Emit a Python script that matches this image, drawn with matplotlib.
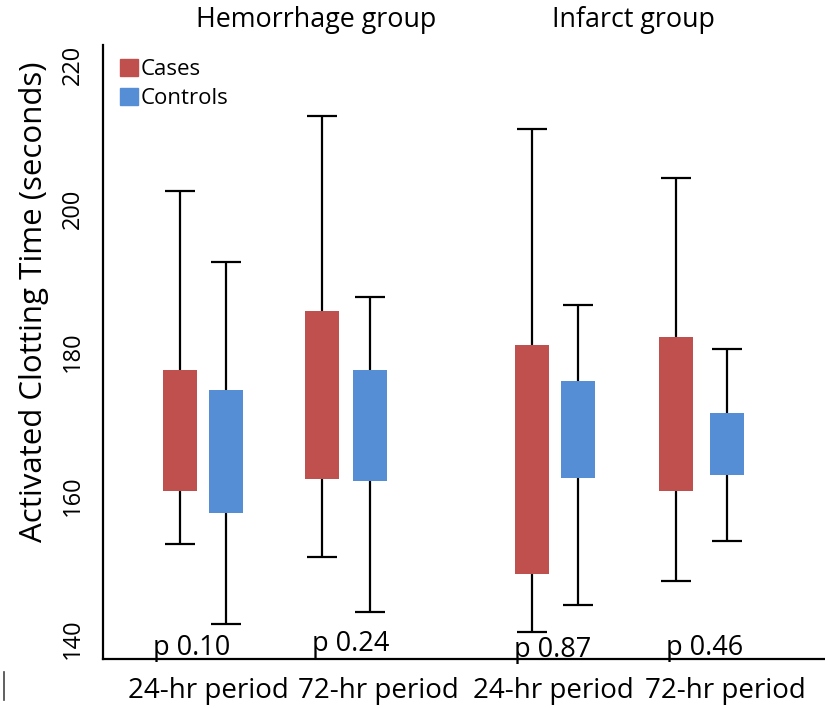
import matplotlib.pyplot as plt
from matplotlib.patches import Patch
from matplotlib.lines import Line2D

plt.rcParams['font.family'] = ['Open Sans', 'DejaVu Sans']

# Activated clotting time (seconds) per group / period
categories = ['24-hr period', '72-hr period', '24-hr period', '72-hr period']
groups = ['Hemorrhage group', 'Infarct group']
p_values = ['p 0.10', 'p 0.24', 'p 0.87', 'p 0.46']

cases_low = [153.2, 151.4, 141.0, 148.1]
cases_q1 = [160.6, 162.3, 149.1, 160.6]
cases_q3 = [177.5, 185.7, 181.0, 182.1]
cases_high = [202.4, 212.9, 211.1, 204.2]

controls_low = [142.1, 143.8, 144.7, 153.6]
controls_q1 = [157.6, 162.0, 162.4, 162.9]
controls_q3 = [174.7, 177.5, 176.0, 171.5]
controls_high = [192.5, 187.7, 186.5, 180.4]

red = '#C0504D'
blue = '#558ED5'

# layout (x in pixel-like units from the y axis)
cases_x = [77, 219, 429, 573]
controls_x = [123, 267, 475, 624]
label_x = [105, 275, 450, 622]
p_x = [89, 248, 450, 602]
p_y = [137.7, 138.35, 137.45, 137.8]
title_x = [213, 530]
box_w = 34
cap_w = 30

fig = plt.figure(figsize=(8.25, 7.08), dpi=100)
ax = fig.add_axes([103 / 825, 1 - 659 / 708, 722 / 825, 614 / 708])


def draw_boxes(xs, low, q1, q3, high, color):
    heights = [b - a for a, b in zip(q1, q3)]
    ax.bar(xs, heights, bottom=q1, width=box_w, color=color, zorder=3)
    ax.vlines(xs, q3, high, color='black', lw=1.6, zorder=2)
    ax.vlines(xs, low, q1, color='black', lw=1.6, zorder=2)
    for x, lo, hi in zip(xs, low, high):
        ax.hlines([lo, hi], x - cap_w / 2, x + cap_w / 2, color='black', lw=1.6, zorder=2)


draw_boxes(cases_x, cases_low, cases_q1, cases_q3, cases_high, red)
draw_boxes(controls_x, controls_low, controls_q1, controls_q3, controls_high, blue)

ax.set_xlim(0, 722)
ax.set_ylim(137.2, 222.8)
ax.set_yticks([140, 160, 180, 200, 220])
ax.tick_params(axis='y', length=0, pad=13, labelsize=17)
for t in ax.get_yticklabels():
    t.set_rotation(90)
    t.set_va('center')
ax.set_xticks(label_x, categories)
ax.tick_params(axis='x', length=0, pad=13, labelsize=20)

for s in ['top', 'right']:
    ax.spines[s].set_visible(False)
for s in ['left', 'bottom']:
    ax.spines[s].set_linewidth(1.6)
    ax.spines[s].set_color('black')

for x, y, txt in zip(p_x, p_y, p_values):
    ax.text(x, y, txt, ha='center', va='baseline', fontsize=19.5)

for x, txt in zip(title_x, groups):
    ax.text(x, 1 + 25 / 614, txt, transform=ax.get_xaxis_transform(),
            ha='center', va='center', fontsize=19.4)

fig.text(34 / 825, 1 - 302 / 708, 'Activated Clotting Time (seconds)',
         rotation=90, ha='center', va='center', fontsize=22.5)

handles = [Patch(color=red, label='Cases'), Patch(color=blue, label='Controls')]
ax.legend(handles=handles, loc='upper left', bbox_to_anchor=(17 / 722, 1 - 14 / 614),
          frameon=False, fontsize=16, handlelength=0.8, handleheight=0.8,
          handletextpad=0.15, labelspacing=0.35, borderpad=0, borderaxespad=0)

# thin edge of the neighbouring panel at the lower left
fig.add_artist(Line2D([4 / 825, 4 / 825], [1 - 700 / 708, 1 - 672 / 708],
                      color='#444444', lw=1.2))

fig.savefig('out.png', dpi=100)
